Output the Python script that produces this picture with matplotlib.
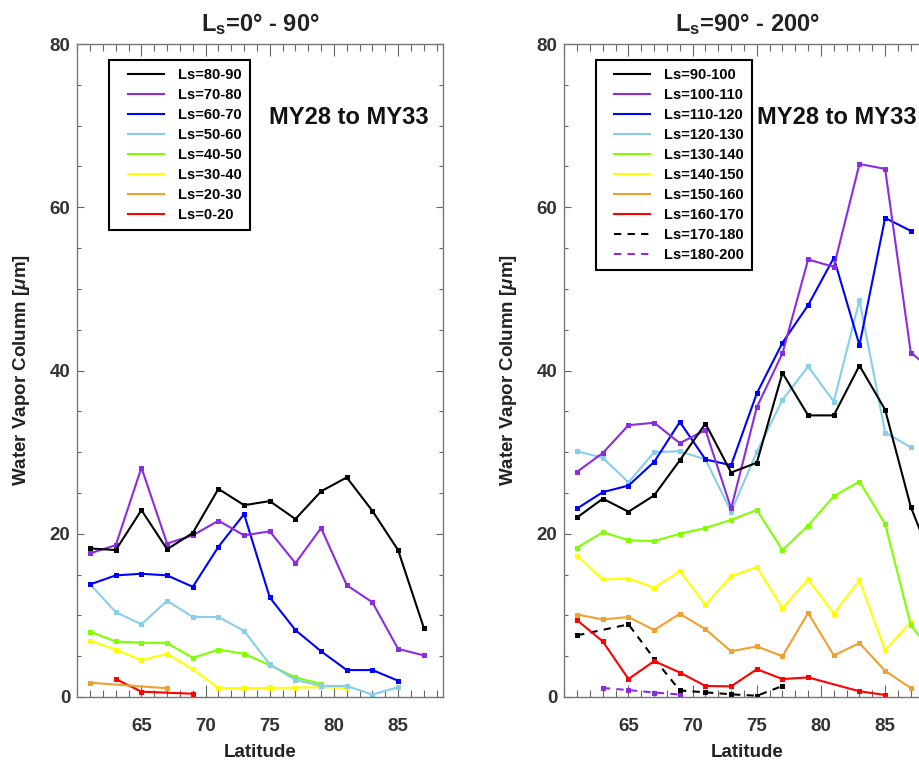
import matplotlib
matplotlib.use('Agg')
import matplotlib.pyplot as plt
from matplotlib.lines import Line2D
from matplotlib.legend_handler import HandlerLine2D
from matplotlib.ticker import MultipleLocator, FixedLocator

plt.rcParams['font.family'] = ['Liberation Sans', 'DejaVu Sans']
plt.rcParams['font.weight'] = 'bold'
plt.rcParams['mathtext.fontset'] = 'custom'
plt.rcParams['mathtext.rm'] = 'Liberation Sans:bold'
plt.rcParams['mathtext.it'] = 'Liberation Sans:bold:italic'
plt.rcParams['mathtext.bf'] = 'Liberation Sans:bold'

# ---------------- data ----------------
# Left panel: Ls = 0-90
left_labels = ['Ls=80-90', 'Ls=70-80', 'Ls=60-70', 'Ls=50-60',
               'Ls=40-50', 'Ls=30-40', 'Ls=20-30', 'Ls=0-20']
lat_80_90 = [61, 63, 65, 67, 69, 71, 73, 75, 77, 79, 81, 83, 85, 87]
wv_80_90 = [18.2, 18.0, 22.9, 18.1, 20.1, 25.5, 23.5, 24.0, 21.8, 25.2, 26.9, 22.8, 18.0, 8.5]
lat_70_80 = [61, 63, 65, 67, 69, 71, 73, 75, 77, 79, 81, 83, 85, 87]
wv_70_80 = [17.6, 18.6, 28.1, 18.8, 19.8, 21.6, 19.8, 20.3, 16.4, 20.7, 13.7, 11.6, 5.9, 5.1]
lat_60_70 = [61, 63, 65, 67, 69, 71, 73, 75, 77, 79, 81, 83, 85]
wv_60_70 = [13.8, 14.9, 15.1, 14.9, 13.5, 18.4, 22.4, 12.2, 8.2, 5.6, 3.3, 3.3, 2.0]
lat_50_60 = [61, 63, 65, 67, 69, 71, 73, 75, 77, 79, 81, 83, 85]
wv_50_60 = [13.8, 10.4, 8.9, 11.8, 9.8, 9.8, 8.1, 4.0, 2.1, 1.35, 1.35, 0.3, 1.2]
lat_40_50 = [61, 63, 65, 67, 69, 71, 73, 75, 77, 79]
wv_40_50 = [8.0, 6.8, 6.65, 6.6, 4.8, 5.8, 5.3, 3.9, 2.4, 1.6]
lat_30_40 = [61, 63, 65, 67, 69, 71, 73, 75, 77, 79, 81]
wv_30_40 = [6.9, 5.8, 4.5, 5.3, 3.4, 1.1, 1.1, 1.1, 1.15, 1.2, 1.1]
lat_20_30 = [61, 67]
wv_20_30 = [1.75, 1.07]
lat_0_20 = [63, 65, 69]
wv_0_20 = [2.2, 0.65, 0.4]

# Right panel: Ls = 90-200
right_labels = ['Ls=90-100', 'Ls=100-110', 'Ls=110-120', 'Ls=120-130', 'Ls=130-140',
                'Ls=140-150', 'Ls=150-160', 'Ls=160-170', 'Ls=170-180', 'Ls=180-200']
lat_90_100 = [61, 63, 65, 67, 69, 71, 73, 75, 77, 79, 81, 83, 85, 87, 89]
wv_90_100 = [22.0, 24.3, 22.7, 24.7, 29.0, 33.5, 27.5, 28.7, 39.7, 34.5, 34.5, 40.6, 35.2, 23.3, 15.3]
lat_100_110 = [61, 63, 65, 67, 69, 71, 73, 75, 77, 79, 81, 83, 85, 87, 89]
wv_100_110 = [27.6, 29.9, 33.3, 33.6, 31.1, 32.7, 23.1, 35.5, 42.1, 53.6, 52.7, 65.3, 64.7, 42.2, 39.6]
lat_110_120 = [61, 63, 65, 67, 69, 71, 73, 75, 77, 79, 81, 83, 85, 87]
wv_110_120 = [23.1, 25.1, 25.9, 28.8, 33.7, 29.1, 28.4, 37.2, 43.4, 48.0, 53.8, 43.1, 58.7, 57.1]
lat_120_130 = [61, 63, 65, 67, 69, 71, 73, 75, 77, 79, 81, 83, 85, 87]
wv_120_130 = [30.1, 29.3, 26.3, 30.0, 30.1, 29.1, 22.7, 30.0, 36.4, 40.5, 36.2, 48.6, 32.4, 30.6]
lat_130_140 = [61, 63, 65, 67, 69, 71, 73, 75, 77, 79, 81, 83, 85, 87, 89]
wv_130_140 = [18.3, 20.2, 19.2, 19.1, 20.0, 20.7, 21.7, 22.9, 18.0, 21.0, 24.6, 26.4, 21.2, 8.8, 4.8]
lat_140_150 = [61, 63, 65, 67, 69, 71, 73, 75, 77, 79, 81, 83, 85, 87]
wv_140_150 = [17.3, 14.4, 14.5, 13.4, 15.4, 11.3, 14.8, 15.9, 10.9, 14.4, 10.2, 14.3, 5.7, 9.2]
lat_150_160 = [61, 63, 65, 67, 69, 71, 73, 75, 77, 79, 81, 83, 85, 87]
wv_150_160 = [10.1, 9.5, 9.8, 8.2, 10.2, 8.3, 5.6, 6.2, 5.0, 10.3, 5.1, 6.6, 3.2, 1.1]
lat_160_170 = [61, 63, 65, 67, 69, 71, 73, 75, 77, 79, 83, 85]
wv_160_170 = [9.4, 6.8, 2.2, 4.4, 3.0, 1.35, 1.3, 3.4, 2.2, 2.4, 0.7, 0.25]
lat_170_180 = [61, 65, 67, 69, 71, 73, 75, 77]
wv_170_180 = [7.55, 8.9, 4.7, 0.8, 0.57, 0.33, 0.15, 1.35]
lat_180_200 = [63, 65, 67, 69]
wv_180_200 = [1.1, 0.85, 0.55, 0.3]

x_major_ticks = [65, 70, 75, 80, 85]
y_major_ticks = [0, 20, 40, 60, 80]

# ---------------- styles ----------------
C_BLACK = '#000000'
C_PURPLE = '#8B2BE2'
C_BLUE = '#0000FF'
C_LBLUE = '#87CEEB'
C_GREEN = '#7FFF00'
C_YELLOW = '#FFFF00'
C_ORANGE = '#F0A030'
C_RED = '#FF0000'
DASH = (0, (3.5, 3))

left_series = [
    (lat_80_90, wv_80_90, C_BLACK, '-'),
    (lat_70_80, wv_70_80, C_PURPLE, '-'),
    (lat_60_70, wv_60_70, C_BLUE, '-'),
    (lat_50_60, wv_50_60, C_LBLUE, '-'),
    (lat_40_50, wv_40_50, C_GREEN, '-'),
    (lat_30_40, wv_30_40, C_YELLOW, '-'),
    (lat_20_30, wv_20_30, C_ORANGE, '-'),
    (lat_0_20, wv_0_20, C_RED, '-'),
]
right_series = [
    (lat_90_100, wv_90_100, C_BLACK, '-'),
    (lat_100_110, wv_100_110, C_PURPLE, '-'),
    (lat_110_120, wv_110_120, C_BLUE, '-'),
    (lat_120_130, wv_120_130, C_LBLUE, '-'),
    (lat_130_140, wv_130_140, C_GREEN, '-'),
    (lat_140_150, wv_140_150, C_YELLOW, '-'),
    (lat_150_160, wv_150_160, C_ORANGE, '-'),
    (lat_160_170, wv_160_170, C_RED, '-'),
    (lat_170_180, wv_170_180, C_BLACK, DASH),
    (lat_180_200, wv_180_200, C_PURPLE, DASH),
]

fig = plt.figure(figsize=(9.2, 7.64), dpi=100)
ax1 = fig.add_axes([0.0840, 0.0877, 0.3975, 0.8547])
ax2 = fig.add_axes([0.6134, 0.0877, 0.3975, 0.8547])

TXT = '#222222'


def draw(ax, series, labels, title, leg_x):
    for lx, wv, c, ls in reversed(series):
        ax.plot(lx, wv, color=c, ls=ls, lw=1.5, marker='s', ms=3.6, mew=0)
    ax.set_xlim(60, 88.5)
    ax.set_ylim(0, 80)
    ax.xaxis.set_major_locator(FixedLocator(x_major_ticks))
    ax.xaxis.set_minor_locator(MultipleLocator(1))
    ax.yaxis.set_major_locator(FixedLocator(y_major_ticks))
    ax.yaxis.set_minor_locator(MultipleLocator(5))
    ax.tick_params(which='both', direction='in', top=True, right=True,
                   colors='#666666', labelcolor='#333333')
    ax.tick_params(axis='x', which='major', length=8.6, width=0.8, pad=15, labelsize=13.5)
    ax.tick_params(axis='x', which='minor', length=4.8, width=0.8)
    ax.tick_params(axis='y', which='major', length=5, width=0.8, pad=5, labelsize=13.5)
    ax.tick_params(axis='y', which='minor', length=3, width=0.8)
    for sp in ax.spines.values():
        sp.set_color('#777777')
        sp.set_linewidth(1.0)
    ax.set_xlabel('Latitude', fontsize=13.5, fontweight='bold', color=TXT)
    ax.xaxis.set_label_coords(0.5, -0.072)
    ax.set_ylabel(r'Water Vapor Column [$\mu$m]', fontsize=13.5, fontweight='bold', color=TXT)
    ax.yaxis.set_label_coords(-0.125, 0.5)
    ax.set_title(title, fontsize=17, fontweight='bold', color=TXT, pad=9.6)
    ax.text(81.2, 71, 'MY28 to MY33', ha='center', va='center',
            fontsize=17, fontweight='bold', color='#111111')
    handles = [Line2D([], [], color=c, ls=ls, lw=1.5) for (_, _, c, ls) in series]
    leg = ax.legend(handles, labels, loc='upper left', bbox_to_anchor=(leg_x, 0.9755),
                    borderaxespad=0, frameon=True, fancybox=False, edgecolor='black',
                    framealpha=1, fontsize=10.5, handlelength=3.2, handletextpad=0.96,
                    labelspacing=0.41, borderpad=0.55,
                    handler_map={Line2D: HandlerLine2D(xpad=0.73)})
    leg.get_frame().set_linewidth(1.5)


draw(ax1, left_series, left_labels, r'L$_{\mathrm{s}}$=0° - 90°', 0.0875)
draw(ax2, right_series, right_labels, r'L$_{\mathrm{s}}$=90° - 200°', 0.0859)

fig.savefig('out.png', dpi=100)
